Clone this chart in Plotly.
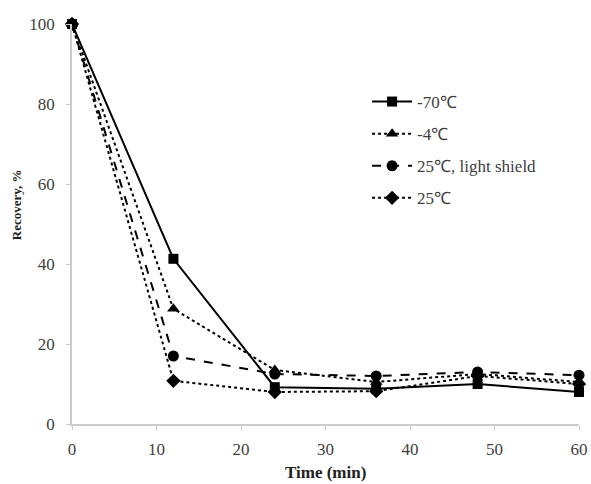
import plotly.graph_objects as go

time_min = [0, 12, 24, 36, 48, 60]
series_names = ["-70℃", "-4℃", "25℃, light shield", "25℃"]
rec_m70 = [100, 41.3, 9.2, 8.8, 10.0, 8.0]
rec_m4 = [100, 28.8, 13.5, 10.5, 12.5, 10.5]
rec_25ls = [100, 17.0, 12.5, 12.0, 13.0, 12.2]
rec_25 = [100, 10.8, 8.0, 8.2, 12.0, 10.0]
x_ticks = [0, 10, 20, 30, 40, 50, 60]
y_ticks = [0, 20, 40, 60, 80, 100]
x_title = "Time (min)"
y_title = "Recovery, %"

series_values = [rec_m70, rec_m4, rec_25ls, rec_25]
dashes = ["solid", "dot", "dash", "dot"]
symbols = ["square", "triangle-up", "circle", "diamond"]
sizes = [10, 11, 11, 11]

fig = go.Figure()
# draw in reverse so the first series sits on top; legend order kept by legendrank
for i in reversed(range(len(series_names))):
    fig.add_trace(go.Scatter(
        x=time_min, y=series_values[i], name=series_names[i], mode="lines+markers",
        line=dict(color="black", width=2, dash=dashes[i]),
        marker=dict(symbol=symbols[i], size=sizes[i], color="black"),
        cliponaxis=False, legendgroup=str(i), legendrank=i + 1,
    ))

font_family = "Liberation Serif"
tick_font = dict(family=font_family, size=17, color="#404040")
fig.update_layout(
    width=591, height=484,
    margin=dict(l=72, r=12, t=24, b=60, autoexpand=False),
    plot_bgcolor="white", paper_bgcolor="white",
    font=dict(family=font_family, size=17, color="#404040"),
    showlegend=True,
    legend=dict(x=0.582, y=0.85, xanchor="left", yanchor="top",
                font=dict(family=font_family, size=17, color="#404040"),
                tracegroupgap=7, traceorder="grouped",
                bgcolor="rgba(0,0,0,0)", itemwidth=40),
)
fig.update_xaxes(
    range=[0, 60], tickvals=x_ticks, automargin=False, tickfont=tick_font,
    showgrid=False, zeroline=False, showline=True, linecolor="#cccccc", linewidth=1.5,
    ticks="outside", ticklen=4, tickcolor="#cccccc", ticklabelstandoff=5,
)
fig.update_yaxes(
    range=[0, 100], tickvals=y_ticks, automargin=False, tickfont=tick_font,
    showgrid=False, zeroline=False, showline=True, linecolor="#cccccc", linewidth=1.5,
    ticks="outside", ticklen=4, tickcolor="#cccccc", ticklabelstandoff=8,
)
fig.add_annotation(
    x=0.5, y=-0.12, xref="paper", yref="paper", xanchor="center", yanchor="middle",
    text="<b>" + x_title + "</b>", showarrow=False,
    font=dict(family=font_family, size=17, color="#222222"),
)
fig.add_annotation(
    x=-0.11, y=0.5475, xref="paper", yref="paper", xanchor="center", yanchor="middle",
    text="<b>" + y_title + "</b>", showarrow=False, textangle=-90,
    font=dict(family=font_family, size=13, color="#222222"),
)
fig.write_html("out.html")
